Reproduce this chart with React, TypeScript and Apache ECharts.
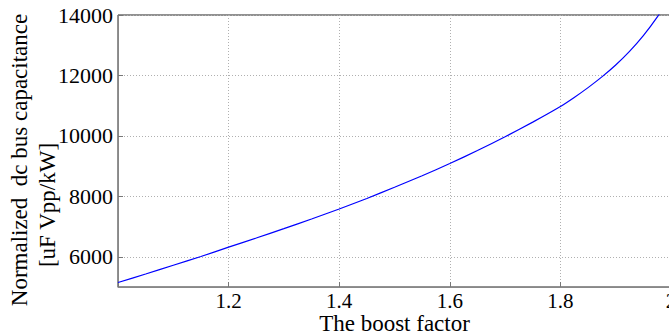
import React, { useEffect, useRef } from "react";
import * as echarts from "echarts";

const boostFactor = [1.0, 1.05, 1.1, 1.15, 1.2, 1.25, 1.3, 1.35, 1.4, 1.45, 1.5, 1.55, 1.6, 1.65, 1.7, 1.75, 1.8, 1.825, 1.85, 1.875, 1.9, 1.925, 1.95, 1.975, 2.0];
const capacitance = [5150, 5430, 5720, 6010, 6318, 6620, 6930, 7250, 7582, 7930, 8300, 8680, 9085, 9515, 9970, 10455, 10972, 11272, 11597, 11952, 12347, 12797, 13317, 13927, 14647];
const yTickValues = [6000, 8000, 10000, 12000, 14000];
const xTickValues = [1.2, 1.4, 1.6, 1.8, 2.0];
const xAxisTitle = "The boost factor";
const yAxisTitle1 = "Normalized  dc bus capacitance";
const yAxisTitle2 = "[uF Vpp/kW]";

const FONT = "'Liberation Serif', 'Times New Roman', serif";

export default function App() {
  const ref = useRef<HTMLDivElement>(null);
  useEffect(() => {
    document.body.style.margin = "0";
    if (!ref.current) return;
    const chart = echarts.init(ref.current, null, { renderer: "svg" });
    const gridLine = { show: true, lineStyle: { color: "#b0b0b0", type: [1, 2] as any, width: 1 } };
    chart.setOption({
      animation: false,
      backgroundColor: "#ffffff",
      textStyle: { fontFamily: FONT, color: "#000" },
      grid: {
        left: 118, top: 15, width: 553, height: 272,
        outerBoundsMode: "none",
        containLabel: false,
        show: true, borderColor: "#222", borderWidth: 1, backgroundColor: "transparent",
      },
      xAxis: {
        type: "value",
        min: 1.0,
        max: 2.0,
        interval: 0.2,
        name: xAxisTitle,
        nameLocation: "middle",
        nameGap: 26,
        nameMoveOverlap: false,
        nameTextStyle: { fontFamily: FONT, fontSize: 23, lineHeight: 20, color: "#000" },
        axisLine: { show: true, onZero: false, lineStyle: { color: "#888", width: 1 } },
        axisTick: { show: true, inside: true, length: 5, lineStyle: { color: "#777" } },
        axisLabel: {
          fontFamily: FONT,
          fontSize: 21,
          lineHeight: 18,
          color: "#000",
          margin: 5,
          hideOverlap: false,
          formatter: (v: number) => (xTickValues.some((t) => Math.abs(t - v) < 1e-9) ? String(Math.round(v * 10) / 10) : ""),
        },
        splitLine: gridLine,
      },
      yAxis: {
        type: "value",
        min: 5000,
        max: 14000,
        interval: 1000,
        axisLine: { show: true, lineStyle: { color: "#888", width: 1 } },
        axisTick: { show: true, inside: true, length: 5, customValues: yTickValues, lineStyle: { color: "#777" } },
        axisLabel: {
          fontFamily: FONT,
          fontSize: 22,
          color: "#000",
          margin: 5,
          customValues: yTickValues,
          formatter: (v: number) => String(v),
        },
        splitLine: gridLine,
      },
      graphic: [
        {
          type: "text",
          x: 19,
          y: 160,
          rotation: Math.PI / 2,
          style: { text: yAxisTitle1, font: `23px ${FONT}`, fill: "#000", textAlign: "center", textVerticalAlign: "middle" },
        },
        {
          type: "text",
          x: 47,
          y: 205,
          rotation: Math.PI / 2,
          style: { text: yAxisTitle2, font: `23px ${FONT}`, fill: "#000", textAlign: "center", textVerticalAlign: "middle" },
        },
      ],
      series: [
        {
          type: "line",
          data: boostFactor.map((x, i) => [x, capacitance[i]]),
          showSymbol: false,
          smooth: 0.2,
          clip: true,
          lineStyle: { color: "#0000ff", width: 1.2 },
        },
      ],
    });
    return () => chart.dispose();
  }, []);
  return <div ref={ref} style={{ width: 669, height: 334 }} />;
}
